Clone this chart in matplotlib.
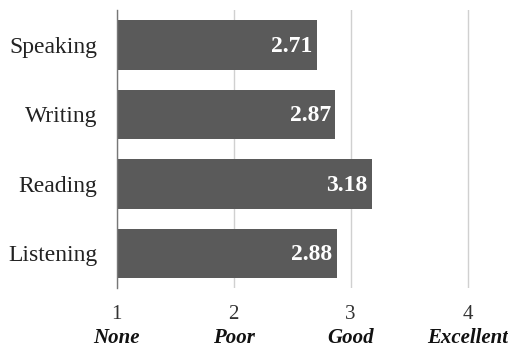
import matplotlib.pyplot as plt
from matplotlib.transforms import blended_transform_factory

# skill self-ratings (1 = none ... 4 = excellent)
skills = ["Speaking", "Writing", "Reading", "Listening"]
scores = [2.71, 2.87, 3.18, 2.88]
tick_values = [1, 2, 3, 4]
tick_words = ["None", "Poor", "Good", "Excellent"]

plt.rcParams['font.family'] = ['Liberation Serif', 'DejaVu Serif']

fig = plt.figure(figsize=(5.08, 3.5), dpi=100)
ax = fig.add_axes([0.230, 0.177, 0.764, 0.794])

ypos = list(range(len(skills)))
ax.barh(ypos, [s - 1 for s in scores], left=1, height=0.71, color="#5a5a5a", zorder=3)

# value labels inside the bar ends
for y, s in zip(ypos, scores):
    ax.text(s - 0.04, y + 0.02, f"{s:.2f}", ha="right", va="center", color="white",
            fontsize=17, fontweight="bold", zorder=4)

ax.set_xlim(1, 4.32)
ax.set_ylim(3.5, -0.5)
ax.set_yticks(ypos)
ax.set_yticklabels(skills, fontsize=17, color="#222222")
ax.set_xticks(tick_values)
ax.set_xticklabels([str(t) for t in tick_values], fontsize=15, color="#333333")
ax.tick_params(axis="both", length=0)
ax.tick_params(axis="x", pad=12)
ax.tick_params(axis="y", pad=14)

ax.grid(axis="x", color="#d0d0d0", linewidth=1, zorder=0)
for side in ["top", "right", "bottom"]:
    ax.spines[side].set_visible(False)
ax.spines["left"].set_color("#777777")
ax.spines["left"].set_linewidth(1)
ax.spines["left"].set_zorder(5)

# rating words under the numeric ticks
trans = blended_transform_factory(ax.transData, ax.transAxes)
for t, w in zip(tick_values, tick_words):
    ax.text(t, -0.178, w, transform=trans, ha="center", va="center",
            fontsize=15, fontweight="bold", fontstyle="italic", color="#111111",
            clip_on=False)

fig.savefig("out.png", dpi=100)
